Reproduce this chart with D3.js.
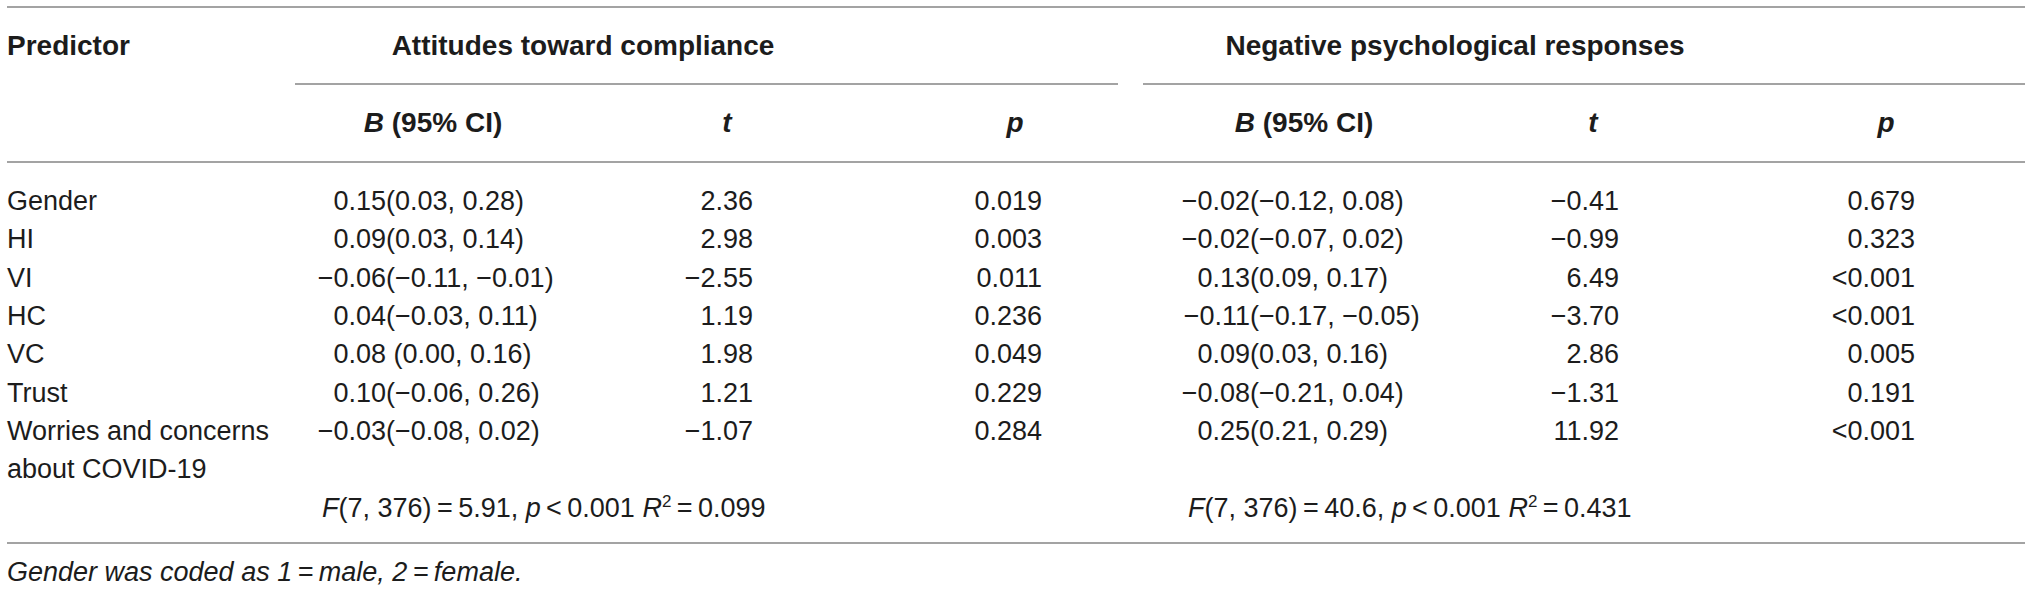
<!DOCTYPE html>
<html>
<head>
  <script src="https://cdnjs.cloudflare.com/ajax/libs/d3/7.8.5/d3.min.js"></script>
  <style>
    body { margin: 0; background: #fff; }
    svg { display: block; }
    text { font-family: "Liberation Sans", Arial, sans-serif; fill: #1c1c1c; white-space: pre; }
    .body { font-size: 27px; }
    .head { font-size: 28px; font-weight: bold; }
    .rule { stroke: #a3a3a3; stroke-width: 2; }
  </style>
</head>
<body>
<svg id="table" width="2032" height="593"></svg>
<script>
// table content
var predictors = ["Gender", "HI", "VI", "HC", "VC", "Trust", "Worries and concerns\nabout COVID-19"];
var groups = ["Attitudes toward compliance", "Negative psychological responses"];

var b1Est = ["0.15", "0.09", "−0.06", "0.04", "0.08", "0.10", "−0.03"];
var b1Ci  = ["(0.03, 0.28)", "(0.03, 0.14)", "(−0.11, −0.01)", "(−0.03, 0.11)", "\u00a0(0.00, 0.16)", "(−0.06, 0.26)", "(−0.08, 0.02)"];
var t1    = ["2.36", "2.98", "−2.55", "1.19", "1.98", "1.21", "−1.07"];
var p1    = ["0.019", "0.003", "0.011", "0.236", "0.049", "0.229", "0.284"];

var b2Est = ["−0.02", "−0.02", "0.13", "−0.11", "0.09", "−0.08", "0.25"];
var b2Ci  = ["(−0.12, 0.08)", "(−0.07, 0.02)", "(0.09, 0.17)", "(−0.17, −0.05)", "(0.03, 0.16)", "(−0.21, 0.04)", "(0.21, 0.29)"];
var t2    = ["−0.41", "−0.99", "6.49", "−3.70", "2.86", "−1.31", "11.92"];
var p2    = ["0.679", "0.323", "<0.001", "<0.001", "0.005", "0.191", "<0.001"];

// model fit: F(df1, df2), F value, p, R2
var fitDf  = ["7, 376", "7, 376"];
var fitF   = ["5.91", "40.6"];
var fitP   = ["0.001", "0.001"];
var fitR2  = ["0.099", "0.431"];

var svg = d3.select("#table");

// rows
var y = d3.scalePoint()
  .domain(predictors)
  .range([210, 440]);
var rowStep = y.step();

// column anchors (x of the aligning edge)
var colX = d3.scaleOrdinal()
  .domain(["pred", "b1", "t1", "p1", "b2", "t2", "p2"])
  .range([7, 386, 753, 1042, 1250, 1619, 1915]);
var headX = d3.scaleOrdinal()
  .domain(["b1", "t1", "p1", "b2", "t2", "p2"])
  .range([433, 727, 1015, 1304, 1593, 1886]);
var groupX = d3.scaleOrdinal().domain(groups).range([583, 1455]);
var groupSpan = d3.scaleOrdinal().domain(groups).range([[295, 1118], [1143, 2025]]);

// rules
var full = [7, 2025];
[7, 162, 543].forEach(function(yy) {
  svg.append("line").attr("class", "rule")
    .attr("x1", full[0]).attr("x2", full[1]).attr("y1", yy).attr("y2", yy);
});
groups.forEach(function(g) {
  svg.append("line").attr("class", "rule")
    .attr("x1", groupSpan(g)[0]).attr("x2", groupSpan(g)[1]).attr("y1", 84).attr("y2", 84);
});

// headers
svg.append("text").attr("class", "head").attr("x", colX("pred")).attr("y", 55).text("Predictor");
svg.selectAll(".grp").data(groups).enter().append("text")
  .attr("class", "head grp")
  .attr("x", d => groupX(d)).attr("y", 55)
  .attr("text-anchor", "middle")
  .text(d => d);

var subHeads = [["b1", "B"], ["t1", "t"], ["p1", "p"], ["b2", "B"], ["t2", "t"], ["p2", "p"]];
subHeads.forEach(function(h) {
  var t = svg.append("text").attr("class", "head")
    .attr("x", headX(h[0])).attr("y", 132).attr("text-anchor", "middle");
  t.append("tspan").attr("font-style", "italic").text(h[1]);
  if (h[1] === "B") t.append("tspan").text(" (95% CI)");
});

// predictor labels
svg.selectAll(".pred").data(predictors).enter().append("text")
  .attr("class", "body pred")
  .attr("x", colX("pred")).attr("y", d => y(d))
  .each(function(d) {
    var lines = d.split("\n");
    var sel = d3.select(this);
    lines.forEach(function(l, i) {
      sel.append("tspan").attr("x", colX("pred")).attr("dy", i ? rowStep : 0).text(l);
    });
  });

// numeric cells
function cells(key, name, vals, anchor) {
  svg.selectAll(".c-" + name).data(vals).enter().append("text")
    .attr("class", "body c-" + name)
    .attr("x", colX(key))
    .attr("y", (d, i) => y(predictors[i]))
    .attr("text-anchor", anchor)
    .text(d => d);
}
cells("b1", "b1est", b1Est, "end");
cells("b1", "b1ci", b1Ci, "start");
cells("t1", "t1", t1, "end");
cells("p1", "p1", p1, "end");
cells("b2", "b2est", b2Est, "end");
cells("b2", "b2ci", b2Ci, "start");
cells("t2", "t2", t2, "end");
cells("p2", "p2", p2, "end");

// model fit row
var fitX = [322, 1188];
var fitY = y(predictors[predictors.length - 1]) + rowStep * 2;
fitF.forEach(function(f, i) {
  var t = svg.append("text").attr("class", "body").attr("x", fitX[i]).attr("y", fitY);
  t.append("tspan").attr("font-style", "italic").text("F");
  t.append("tspan").text("(" + fitDf[i] + ")\u2009=\u2009" + f + ", ");
  t.append("tspan").attr("font-style", "italic").text("p");
  t.append("tspan").text("\u2009<\u2009" + fitP[i] + " ");
  t.append("tspan").attr("font-style", "italic").text("R");
  t.append("tspan").attr("font-size", "17px").attr("dy", -10).text("2");
  t.append("tspan").attr("dy", 10).text("\u2009=\u2009" + fitR2[i]);
});

// footnote
svg.append("text").attr("class", "body")
  .attr("x", 7).attr("y", 581)
  .attr("font-style", "italic")
  .text("Gender was coded as 1\u2009=\u2009male, 2\u2009=\u2009female.");
</script>
</body>
</html>
